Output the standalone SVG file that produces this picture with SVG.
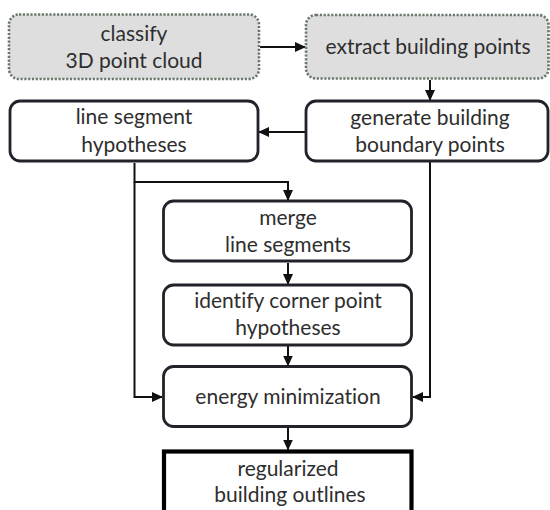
<svg xmlns="http://www.w3.org/2000/svg" width="550" height="510" viewBox="0 0 550 510">
<defs>
<marker id="ah" markerUnits="userSpaceOnUse" markerWidth="11" markerHeight="10" refX="10" refY="5" orient="auto">
<path d="M0,0 L11,5 L0,10 z" fill="#111"/>
</marker>
<style>
.dot{fill:#dedede;stroke:#6a786c;stroke-width:2.6;stroke-dasharray:2.2 1.6}
.box{fill:#fff;stroke:#22222a;stroke-width:2.8}
.out{fill:#fff;stroke:#000;stroke-width:4.2}
text{font-family:Lato,"Open Sans","Liberation Sans",sans-serif;font-size:21px;fill:#2e2e2e;text-anchor:middle;font-variant-ligatures:none}
.c{fill:none;stroke:#111;stroke-width:2}
</style>
</defs>
<rect width="550" height="510" fill="#fff"/>
<g id="connectors">
<line class="c" x1="260" y1="47" x2="305" y2="47" marker-end="url(#ah)"/>
<line class="c" x1="430" y1="80" x2="430" y2="100" marker-end="url(#ah)"/>
<line class="c" x1="305" y1="132" x2="259" y2="132" marker-end="url(#ah)"/>
<polyline class="c" points="134.5,163 134.5,182 288,182 288,200" marker-end="url(#ah)"/>
<polyline class="c" points="134.5,182 134.5,397 162,397" marker-end="url(#ah)"/>
<polyline class="c" points="430,162 430,397 413,397" marker-end="url(#ah)"/>
<line class="c" x1="288" y1="263" x2="288" y2="284" marker-end="url(#ah)"/>
<line class="c" x1="288" y1="346" x2="288" y2="365.5" marker-end="url(#ah)"/>
<line class="c" x1="288" y1="428" x2="288" y2="449.5" marker-end="url(#ah)"/>
</g>
<g id="classify">
<rect class="dot" x="9" y="14.5" width="250" height="64.5" rx="10"/>
<text x="134" y="41">classify</text>
<text x="134" y="68">3D point cloud</text>
</g>
<g id="extract">
<rect class="dot" x="306" y="15" width="242.5" height="63.5" rx="10"/>
<text x="428" y="54">extract building points</text>
</g>
<g id="line-segment-hypotheses">
<rect class="box" x="10" y="101" width="248" height="60" rx="10"/>
<text x="134" y="124">line segment</text>
<text x="134" y="152">hypotheses</text>
</g>
<g id="generate">
<rect class="box" x="306" y="101" width="242" height="60" rx="10"/>
<text x="430" y="125">generate building</text>
<text x="430" y="152">boundary points</text>
</g>
<g id="merge">
<rect class="box" x="163.5" y="201" width="248" height="60" rx="10"/>
<text x="288" y="225">merge</text>
<text x="288" y="252">line segments</text>
</g>
<g id="identify">
<rect class="box" x="163.5" y="285" width="248" height="60" rx="10"/>
<text x="288" y="308">identify corner point</text>
<text x="288" y="335">hypotheses</text>
</g>
<g id="energy">
<rect class="box" x="163.5" y="366.5" width="248" height="60" rx="10"/>
<text x="288" y="404">energy minimization</text>
</g>
<g id="outlines">
<rect class="out" x="164" y="451.5" width="247.5" height="80"/>
<text x="288" y="476">regularized</text>
<text x="290" y="502">building outlines</text>
</g>
</svg>
